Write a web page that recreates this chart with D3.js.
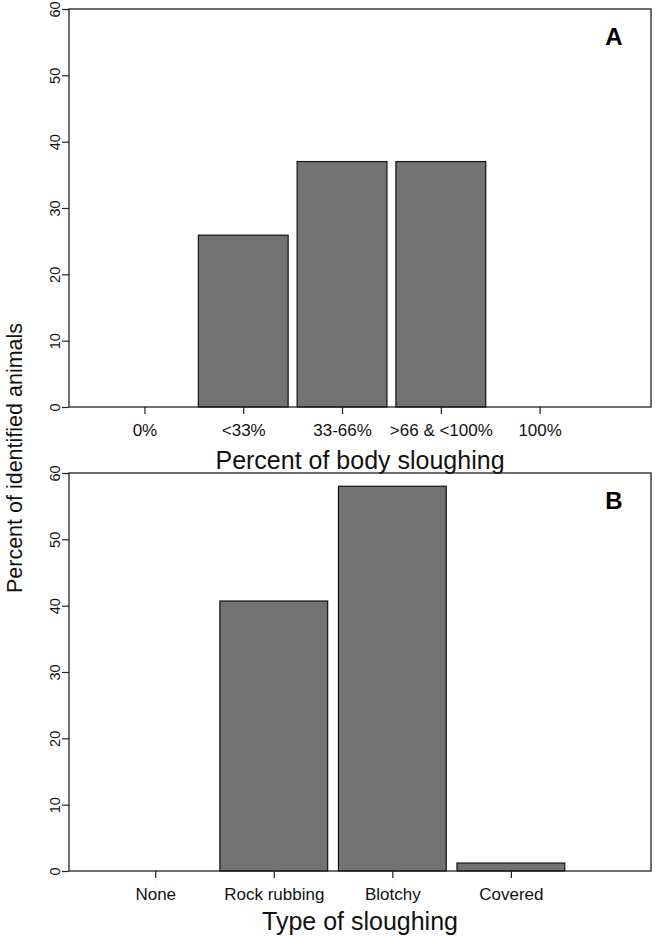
<!DOCTYPE html>
<html>
<head>
<meta charset="utf-8">
<script src="https://cdn.jsdelivr.net/npm/d3@7"></script>
<style>
  html, body { margin: 0; padding: 0; background: #fff; }
  svg { display: block; }
  svg text { font-family: Arial, "Liberation Sans", Helvetica, sans-serif; }
</style>
</head>
<body>
<svg id="chart" width="655" height="937"></svg>
<script>
// ---- data ----
const categoriesA = ["0%", "<33%", "33-66%", ">66 & <100%", "100%"];
const valuesA = [0, 25.9, 37.0, 37.0, 0];
const categoriesB = ["None", "Rock rubbing", "Blotchy", "Covered"];
const valuesB = [0, 40.7, 58.0, 1.2];
const yTicks = [0, 10, 20, 30, 40, 50, 60];
const titleA = "Percent of body sloughing";
const titleB = "Type of sloughing";
const yTitle = "Percent of identified animals";

const svg = d3.select("#chart");
const left = 69, right = 651;
const FONT = 'Arial, "Liberation Sans", Helvetica, sans-serif';

function panel(cfg) {
  const g = svg.append("g");
  const x = d3.scaleLinear().domain(cfg.xlim).range([left, right]);
  const y = d3.scaleLinear().domain([0, 60]).range([cfg.bottom, cfg.top]);
  const slot = 1.1, width = 1, space = 0.1;

  // bars
  g.selectAll("rect.bar").data(cfg.values).enter().append("rect")
    .attr("class", "bar")
    .attr("x", (d, i) => x(space + i * slot))
    .attr("width", (d, i) => x(space + i * slot + width) - x(space + i * slot))
    .attr("y", d => y(d))
    .attr("height", d => y(0) - y(d))
    .attr("fill", "#737373")
    .attr("stroke", "#111")
    .attr("stroke-width", 1.2);

  // box
  g.append("rect")
    .attr("x", left).attr("y", cfg.top)
    .attr("width", right - left).attr("height", cfg.bottom - cfg.top)
    .attr("fill", "none").attr("stroke", "#222").attr("stroke-width", 1.3);

  // y axis
  const ya = d3.axisLeft(y).tickValues(yTicks).tickSize(7).tickPadding(4);
  const yg = g.append("g").attr("transform", `translate(${left},0)`).call(ya);
  yg.attr("font-family", FONT);
  yg.select(".domain").remove();
  yg.selectAll(".tick line").attr("stroke", "#222").attr("stroke-width", 1.2);
  yg.selectAll(".tick text")
    .attr("font-size", 14.5).attr("fill", "#111")
    .attr("x", null).attr("dy", null)
    .attr("text-anchor", "middle")
    .attr("transform", "translate(-9.5,0) rotate(-90)")
    .attr("y", 0);

  // x axis
  const centers = cfg.cats.map((c, i) => space + i * slot + width / 2);
  const xa = d3.axisBottom(x).tickValues(centers)
    .tickFormat((d, i) => cfg.cats[i]).tickSize(7).tickPadding(10);
  const xg = g.append("g").attr("transform", `translate(0,${cfg.bottom})`).call(xa);
  xg.attr("font-family", FONT);
  xg.select(".domain").remove();
  xg.selectAll(".tick line").attr("stroke", "#222").attr("stroke-width", 1.2);
  xg.selectAll(".tick text").attr("font-size", 17).attr("fill", "#111");

  // axis title
  g.append("text")
    .attr("x", (left + right) / 2).attr("y", cfg.bottom + cfg.titleOffset)
    .attr("text-anchor", "middle").attr("font-size", 25).attr("fill", "#111")
    .text(cfg.title);

  // panel letter
  g.append("text")
    .attr("x", 614).attr("y", cfg.top + 36)
    .attr("text-anchor", "middle").attr("font-size", 24)
    .attr("font-weight", "bold").attr("fill", "#000")
    .text(cfg.letter);
}

panel({ cats: categoriesA, values: valuesA, xlim: [-0.24, 6.24], top: 9, bottom: 407,
        title: titleA, titleOffset: 62, letter: "A" });
panel({ cats: categoriesB, values: valuesB, xlim: [-0.2, 5.2], top: 473, bottom: 871,
        title: titleB, titleOffset: 59, letter: "B" });

svg.append("text")
  .attr("transform", "translate(22,458) rotate(-90)")
  .attr("text-anchor", "middle").attr("font-size", 21.5).attr("fill", "#111")
  .text(yTitle);
</script>
</body>
</html>
